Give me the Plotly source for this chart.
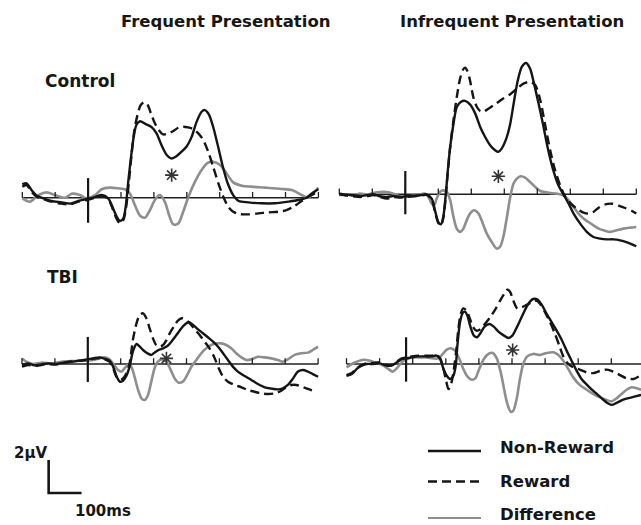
import plotly.graph_objects as go

W, H = 641, 525

# ---------------- data (ms, µV) ----------------
# Frequent presentation, Control
fc_nr_t = [-200,-187,-172,-156,-136,-111,-80,-55,-30,-4,21,41,61,76,87,97,107,115,122,130,138,147,158,175,193,208,223,239,252,266,284,299,315,330,345,355,367,380,394,408,424,441,458,487,527,568,608,639,664,684,700]
fc_nr_v = [0.81,0.87,0.46,0.12,-0.04,-0.20,-0.28,-0.36,-0.20,-0.08,0.04,0.16,-0.04,-0.65,-1.15,-1.41,-1.25,-0.44,0.97,2.38,3.60,4.42,4.63,4.46,4.28,3.90,3.19,2.59,2.38,2.48,2.79,3.09,3.70,4.61,5.21,5.31,5.05,4.30,3.19,2.00,0.89,0.16,-0.20,-0.28,-0.34,-0.34,-0.24,-0.14,0.0,0.32,0.51]
fc_rw_t = [-200,-187,-172,-156,-136,-111,-80,-55,-30,-4,21,41,61,76,87,97,107,115,124,132,140,150,160,171,181,191,203,215,228,244,259,274,289,304,320,335,350,365,380,396,411,426,441,461,487,517,548,578,603,624,649,669,689,700]
fc_rw_v = [0.67,0.77,0.36,0.06,-0.08,-0.24,-0.36,-0.40,-0.24,-0.14,0.0,0.12,-0.08,-0.75,-1.29,-1.56,-1.35,-0.65,0.97,2.59,4.0,5.01,5.62,5.78,5.62,5.11,4.51,4.10,3.84,3.90,4.04,4.24,4.30,4.26,4.16,3.90,3.50,2.79,1.88,0.87,0.06,-0.55,-0.85,-0.99,-1.01,-0.95,-0.89,-0.85,-0.75,-0.55,-0.20,0.06,0.26,0.36]
fc_df_t = [-200,-177,-151,-126,-101,-70,-50,-25,-4,21,41,66,92,112,127,142,158,173,188,203,218,234,246,259,274,289,305,325,345,365,380,401,421,441,467,497,538,588,619,649,669,689,700]
fc_df_v = [-0.04,-0.24,0.16,0.32,0.16,0.0,0.24,0.16,-0.04,0.16,0.51,0.61,0.57,0.51,0.26,-0.44,-1.09,-1.21,-0.75,-0.14,0.16,-0.28,-1.05,-1.62,-1.56,-0.85,0.06,0.97,1.68,2.12,2.18,1.98,1.47,0.93,0.73,0.67,0.61,0.53,0.46,0.16,0.0,0.36,0.61]

# Infrequent presentation, Control
ic_nr_t = [-200,-178,-158,-137,-117,-97,-77,-56,-36,-16,2,24,45,65,80,90,100,108,115,122,128,136,146,156,168,181,196,212,227,242,257,272,282,292,306,318,330,341,353,366,378,390,404,417,431,447,464,479,495,510,530,550,570,591,611,631,651,672,687,700]
ic_nr_v = [0.04,-0.02,-0.06,-0.10,-0.06,0.0,-0.12,-0.16,-0.10,-0.16,-0.12,-0.10,-0.06,0.0,-0.26,-0.97,-1.68,-1.82,-1.37,-0.16,1.25,2.87,4.28,5.29,5.60,5.66,5.45,4.89,4.08,3.47,2.97,2.67,2.57,2.77,3.37,4.28,5.70,6.91,7.72,7.96,7.62,6.71,5.49,4.28,2.87,1.56,0.55,0.0,-0.57,-1.17,-1.78,-2.28,-2.59,-2.69,-2.73,-2.73,-2.79,-2.91,-3.03,-3.15]
ic_rw_t = [-200,-178,-158,-137,-117,-97,-77,-56,-36,-16,2,24,45,65,80,90,100,108,115,122,128,136,146,156,166,174,181,188,196,206,217,227,237,252,267,282,297,318,338,358,378,394,409,424,439,454,469,484,500,520,540,555,570,586,606,626,646,666,687,700]
ic_rw_v = [0,-0.08,-0.12,-0.16,-0.12,-0.04,-0.16,-0.26,-0.16,-0.20,-0.16,-0.12,-0.08,-0.04,-0.32,-1.07,-1.74,-1.88,-1.47,-0.26,1.15,2.87,4.48,5.90,7.01,7.52,7.68,7.47,6.91,5.90,5.29,5.05,5.01,5.19,5.39,5.60,5.80,6.06,6.40,6.71,6.81,6.61,5.70,4.18,2.67,1.45,0.55,-0.12,-0.53,-0.87,-1.11,-1.17,-1.07,-0.81,-0.61,-0.57,-0.69,-0.83,-1.01,-1.17]
ic_df_t = [-200,-178,-158,-137,-117,-97,-77,-56,-36,-16,2,24,45,60,70,80,87,95,105,115,126,136,146,156,166,176,186,196,208,222,235,247,262,277,287,297,308,318,328,338,350,363,378,394,409,424,439,459,479,495,510,525,540,555,570,586,601,621,641,661,682,700]
ic_df_v = [-0.06,0,-0.08,0.04,-0.02,0.08,0.14,0.14,0.04,-0.12,-0.16,-0.08,0,0.04,-0.16,-0.57,-0.67,-0.26,0.14,0.24,0.14,-0.36,-1.37,-2.08,-2.28,-2.08,-1.58,-1.17,-0.97,-1.17,-1.78,-2.38,-2.89,-3.29,-3.19,-2.59,-1.37,-0.16,0.65,0.95,1.09,1.01,0.75,0.44,0.20,0.14,0.08,0.04,-0.06,-0.36,-0.77,-1.17,-1.47,-1.68,-1.88,-2.08,-2.18,-2.28,-2.18,-2.08,-2.02,-1.98]

# Frequent presentation, TBI
ft_nr_t = [-200,-182,-162,-141,-121,-101,-80,-60,-40,-20,-4,16,36,51,66,77,87,97,107,117,127,137,148,158,168,181,193,203,215,229,242,254,266,279,292,307,320,335,350,365,380,396,411,426,441,456,477,497,517,538,558,578,593,608,624,639,654,669,684,700]
ft_nr_v = [-0.06,0.04,-0.08,-0.02,0.04,0,0.06,0.12,0.16,0.22,0.28,0.34,0.40,0.32,0.20,-0.16,-0.73,-1.07,-1.01,-0.73,-0.16,0.75,1.21,1.05,0.85,0.65,0.55,0.69,0.85,0.95,1.09,1.35,1.66,2.02,2.34,2.55,2.36,2.10,1.86,1.62,1.37,1.05,0.65,0.24,-0.16,-0.46,-0.73,-0.97,-1.21,-1.41,-1.49,-1.54,-1.47,-1.27,-0.87,-0.46,-0.36,-0.46,-0.61,-0.77]
ft_rw_t = [-200,-182,-162,-141,-121,-101,-80,-60,-40,-20,-4,16,36,51,66,77,87,97,107,117,127,137,148,158,168,178,188,198,208,218,229,239,249,262,274,286,296,310,325,340,355,370,386,398,411,426,446,467,487,507,527,548,568,588,603,619,634,649,664,679,695]
ft_rw_v = [-0.16,-0.06,-0.12,-0.06,0,-0.04,0.04,0.12,0.18,0.20,0.24,0.32,0.36,0.28,0.14,-0.26,-0.77,-0.97,-0.87,-0.57,0.04,1.45,2.46,2.97,3.07,2.77,2.16,1.56,1.15,1.05,1.15,1.45,1.86,2.28,2.63,2.77,2.71,2.46,2.10,1.76,1.35,0.95,0.34,-0.26,-0.77,-1.07,-1.27,-1.41,-1.58,-1.68,-1.78,-1.82,-1.78,-1.62,-1.41,-1.27,-1.27,-1.37,-1.47,-1.58,-1.68]
ft_df_t = [-200,-187,-167,-141,-111,-80,-50,-20,-4,16,36,51,66,80,92,102,112,122,132,142,153,163,173,183,193,203,213,226,239,252,264,276,289,302,315,330,345,360,375,391,406,421,436,451,467,482,497,517,538,558,578,593,608,629,649,669,684,700]
ft_df_v = [0.34,0.14,0,0.08,0.04,0.14,0.18,0.20,0.20,0.24,0.34,0.40,0.28,-0.06,-0.36,-0.46,-0.26,-0.06,-0.16,-0.77,-1.58,-2.08,-2.18,-1.88,-1.07,-0.26,0.14,0.28,0.14,-0.36,-0.87,-1.13,-1.07,-0.67,-0.16,0.24,0.65,0.95,1.15,1.25,1.25,1.15,0.95,0.65,0.40,0.24,0.28,0.44,0.40,0.34,0.24,0.14,0.28,0.55,0.65,0.69,0.85,1.05]

# Infrequent presentation, TBI
it_nr_t = [-200,-184,-169,-154,-139,-119,-99,-79,-64,-48,-33,-20,-3,17,37,57,72,83,93,103,113,123,130,135,143,151,158,165,175,185,195,205,218,232,244,259,276,289,301,316,332,349,364,377,390,405,420,435,450,465,480,495,510,531,551,571,588,601,616,636,662,690]
it_nr_v = [-0.71,-0.61,-0.30,-0.10,0,0,0.04,-0.10,-0.10,0.10,0.30,0.34,0.40,0.46,0.46,0.46,0.51,0.30,-0.30,-0.71,-0.91,-0.71,-0.10,1.11,2.53,3.09,3.17,2.93,2.22,1.72,1.62,1.88,2.28,2.42,2.28,1.96,1.72,1.58,1.72,2.28,2.97,3.64,3.94,3.90,3.58,3.03,2.53,2.02,1.47,0.81,0.20,-0.40,-0.91,-1.35,-1.72,-2.08,-2.36,-2.48,-2.36,-2.16,-2.02,-1.88]
it_rw_t = [-200,-184,-169,-154,-139,-119,-99,-79,-64,-48,-33,-20,-3,17,37,57,72,83,93,101,108,116,123,131,138,145,153,163,173,183,193,205,218,234,249,264,276,286,294,304,316,329,344,359,373,385,400,415,430,443,455,470,485,505,526,546,566,586,606,626,647,667,690]
it_rw_v = [-0.67,-0.55,-0.26,-0.06,0.04,0.06,0.10,-0.06,-0.06,0.14,0.34,0.40,0.46,0.51,0.51,0.51,0.55,0.34,-0.30,-1.01,-1.52,-1.21,-0.51,0.71,2.12,3.03,3.37,3.23,2.73,2.22,2.02,2.12,2.42,2.83,3.29,3.84,4.24,4.51,4.38,3.84,3.37,3.43,3.58,3.74,3.84,3.64,3.13,2.53,1.82,1.11,0.46,0,-0.20,-0.34,-0.51,-0.55,-0.42,-0.34,-0.46,-0.67,-0.87,-0.91,-0.67]
it_df_t = [-200,-184,-169,-149,-129,-109,-89,-74,-61,-48,-33,-18,2,22,42,62,77,91,103,115,128,141,153,165,178,189,201,215,229,242,254,266,276,286,296,304,314,324,334,346,364,385,405,425,440,455,470,485,505,526,546,566,586,601,616,631,646,662,677,690]
it_df_v = [-0.20,0,0.14,0.26,0.20,0.06,-0.10,-0.30,-0.46,-0.26,0.10,0.30,0.40,0.40,0.40,0.34,0.34,0.61,0.87,0.95,0.81,0.30,-0.30,-0.75,-0.95,-0.87,-0.30,0.30,0.61,0.67,0.34,-0.51,-1.52,-2.42,-2.89,-2.83,-2.12,-0.91,0,0.46,0.61,0.55,0.67,0.71,0.55,0.20,-0.30,-0.81,-1.27,-1.56,-1.82,-2.02,-2.18,-2.26,-2.08,-1.82,-1.56,-1.41,-1.47,-1.56]

# significance asterisks (ms, µV), one per panel
ast_t = [254, 282, 239, 302]
ast_v = [1.37, 1.09, 0.34, 0.85]

# epoch and time ticks
EPOCH = [-200, 700]
TICKS_MS = [-200, -100, 0, 100, 200, 300, 400, 500, 600, 700]
# stimulus-onset marker per panel (ms) and its extent (µV)
ONSET_MS = [0, 0, 0, -20]
MARK_LO = [-1.52, -1.21, -1.09, -1.07]
MARK_HI = [1.19, 1.41, 1.64, 1.62]

SCALE_MS = 100
SCALE_UV = 2

COL_TITLES = ["Frequent Presentation", "Infrequent Presentation"]
ROW_TITLES = ["Control", "TBI"]
LEGEND_NAMES = ["Non-Reward", "Reward", "Difference"]

# ---------------- layout geometry (pixels) ----------------
PX_PER_UV = 16.5
PANELS = [
    dict(x0=22.3, sx=0.329, base=197.7,
         series=[(fc_df_t, fc_df_v), (fc_rw_t, fc_rw_v), (fc_nr_t, fc_nr_v)]),
    dict(x0=339.3, sx=0.330, base=194.3,
         series=[(ic_df_t, ic_df_v), (ic_rw_t, ic_rw_v), (ic_nr_t, ic_nr_v)]),
    dict(x0=22.0, sx=0.329, base=364.0,
         series=[(ft_df_t, ft_df_v), (ft_rw_t, ft_rw_v), (ft_nr_t, ft_nr_v)]),
    dict(x0=346.5, sx=0.331, base=364.0,
         series=[(it_df_t, it_df_v), (it_rw_t, it_rw_v), (it_nr_t, it_nr_v)]),
]
for p in PANELS:
    for t, v in p["series"]:
        assert len(t) == len(v), (len(t), len(v))

BLACK = "#151515"
GRAY = "#8e8e8e"
STYLES = [  # difference, reward, non-reward
    dict(color=GRAY, width=2.6, dash="solid"),
    dict(color=BLACK, width=2.4, dash="9px,5px"),
    dict(color=BLACK, width=2.4, dash="solid"),
]
TICK_UV = 0.35
FONT = "DejaVu Sans"

fig = go.Figure()

def ax_names(i):
    return ("x", "y") if i == 0 else (f"x{i+1}", f"y{i+1}")

for i, p in enumerate(PANELS):
    xa, ya = ax_names(i)
    # baseline
    fig.add_trace(go.Scatter(x=EPOCH, y=[0, 0], mode="lines", xaxis=xa, yaxis=ya,
                             line=dict(color="#202020", width=1.4), hoverinfo="skip"))
    # curves
    for (t, v), st in zip(p["series"], STYLES):
        fig.add_trace(go.Scatter(x=t, y=v, mode="lines", xaxis=xa, yaxis=ya,
                                 line=dict(color=st["color"], width=st["width"], dash=st["dash"],
                                           shape="spline", smoothing=0.8),
                                 hoverinfo="skip"))
    # ticks
    tx, ty = [], []
    for tk in TICKS_MS:
        tx += [tk, tk, None]
        ty += [0, TICK_UV, None]
    fig.add_trace(go.Scatter(x=tx, y=ty, mode="lines", xaxis=xa, yaxis=ya,
                             line=dict(color="#202020", width=1.3), hoverinfo="skip"))
    # onset marker
    fig.add_trace(go.Scatter(x=[ONSET_MS[i], ONSET_MS[i]], y=[MARK_LO[i], MARK_HI[i]],
                             mode="lines", xaxis=xa, yaxis=ya,
                             line=dict(color="#151515", width=2.2), hoverinfo="skip"))
    # asterisk
    fig.add_trace(go.Scatter(x=[ast_t[i]], y=[ast_v[i]], mode="markers", xaxis=xa, yaxis=ya,
                             marker=dict(symbol="asterisk-open", size=11, color="#333333",
                                         line=dict(color="#333333", width=1.6)),
                             hoverinfo="skip"))

# scale bar drawn in the TBI / Frequent panel coordinates
sb_t0, sb_v0 = -119, -7.82
fig.add_trace(go.Scatter(x=[sb_t0, sb_t0, sb_t0 + SCALE_MS],
                         y=[sb_v0 + SCALE_UV, sb_v0, sb_v0],
                         mode="lines", xaxis="x3", yaxis="y3",
                         line=dict(color=BLACK, width=2.6), hoverinfo="skip"))

layout = dict(width=W, height=H, margin=dict(l=0, r=0, t=0, b=0, pad=0),
              paper_bgcolor="white", plot_bgcolor="rgba(0,0,0,0)", showlegend=False)
for i, p in enumerate(PANELS):
    xr = [-200 - p["x0"] / p["sx"], -200 + (W - p["x0"]) / p["sx"]]
    yr = [(p["base"] - H) / PX_PER_UV, p["base"] / PX_PER_UV]
    xk = "xaxis" if i == 0 else f"xaxis{i+1}"
    yk = "yaxis" if i == 0 else f"yaxis{i+1}"
    xd = dict(range=xr, domain=[0, 1], visible=False, fixedrange=True)
    yd = dict(range=yr, domain=[0, 1], visible=False, fixedrange=True)
    if i > 0:
        xd["overlaying"] = "x"
        yd["overlaying"] = "y"
        xd["anchor"] = f"y{i+1}"
        yd["anchor"] = f"x{i+1}"
    layout[xk] = xd
    layout[yk] = yd
fig.update_layout(**layout)

def px(x):
    return x / W

def py(y):
    return 1 - y / H

def label(text, x, y, size, xanchor="left"):
    fig.add_annotation(text=text, x=px(x), y=py(y), xref="paper", yref="paper",
                       xanchor=xanchor, yanchor="middle", showarrow=False,
                       font=dict(family=FONT, size=size, color="#161616", weight="bold"))

label(COL_TITLES[0], 119, 21, 16.5)
label(COL_TITLES[1], 398, 21, 16.5)
label(ROW_TITLES[0], 43, 80.5, 17)
label(ROW_TITLES[1], 45, 277, 17)
label("2µV", 12, 453, 15)
label("100ms", 73, 511, 15)

leg_y = [451, 481.5, 518]
leg_style = [STYLES[2], STYLES[1], dict(color=GRAY, width=2.2, dash="solid")]
for name, yy, st, ty in zip(LEGEND_NAMES, leg_y, leg_style, [447, 481.5, 514.5]):
    fig.add_shape(type="line", xref="paper", yref="paper",
                  x0=px(428), x1=px(481), y0=py(yy), y1=py(yy),
                  line=dict(color=st["color"], width=st["width"], dash=st["dash"]))
    label(name, 498, ty, 16.5)

fig.write_html("out.html")
